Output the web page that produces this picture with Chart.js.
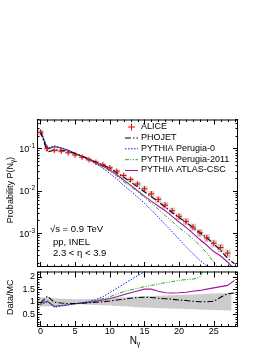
<!DOCTYPE html>
<html>
<head>
<meta charset="utf-8">
<script src="https://cdn.jsdelivr.net/npm/chart.js@4.4.0/dist/chart.umd.min.js"></script>
<style>
  html, body { margin: 0; padding: 0; background: #fff; }
  #wrap { position: relative; width: 271px; height: 351px; overflow: hidden; }
  canvas { position: absolute; left: 0; }
  #top { top: 0; }
  #bot { top: 260px; }
</style>
</head>
<body>
<div id="wrap">
  <canvas id="top" width="271" height="272"></canvas>
  <canvas id="bot" width="271" height="91"></canvas>
</div>
<script>
// ALICE measurement, N_gamma = 0..27
const nAlice = [0,1,2,3,4,5,6,7,8,9,10,11,12,13,14,15,16,17,18,19,20,21,22,23,24,25,26,27];
const alice = [0.24,0.100,0.090,0.086,0.079,0.070,0.062,0.054,0.047,0.041,0.035,0.029,0.023,0.0185,0.0145,0.0112,0.0085,0.0063,0.0046,0.0034,0.0025,0.0019,0.0014,0.00103,0.00078,0.00058,0.00046,0.00034];
// relative systematic uncertainty (grey boxes)
const aliceSys = [0.15,0.10,0.08,0.07,0.07,0.07,0.07,0.08,0.08,0.09,0.10,0.11,0.12,0.13,0.14,0.15,0.16,0.17,0.18,0.18,0.19,0.19,0.20,0.20,0.21,0.21,0.22,0.22];
// band in the ratio panel
const ratioSys = [0.17,0.16,0.13,0.11,0.10,0.09,0.09,0.10,0.11,0.12,0.13,0.15,0.16,0.18,0.20,0.21,0.22,0.23,0.24,0.25,0.26,0.27,0.28,0.29,0.30,0.31,0.32,0.33];

// models
const nMC = [0,1,2,3,4,5,6,7,8,9,10,11,12,13,14,15,16,17,18,19,20,21,22,23,24,25,26,27,28];
const phojet = [0.253,0.082,0.092,0.0905,0.085,0.0753,0.066,0.0563,0.048,0.041,0.034,0.0271,0.0209,0.0162,0.0124,0.0095,0.00726,0.00553,0.00411,0.00309,0.00234,0.00181,0.00137,0.00103,0.00078,0.00057,0.00039,0.000258,0.00019];
const perugia0 = [0.273,0.10,0.115,0.104,0.091,0.076,0.0646,0.0535,0.0435,0.0342,0.0257,0.019,0.0135,0.0099,0.0071,0.0051,0.0035,0.0024,0.0016,0.00108,0.00072,0.00048,0.00033,0.00023,0.00017,0.00012];
const perugia2011 = [0.261,0.095,0.11,0.101,0.0898,0.076,0.0646,0.054,0.0448,0.0366,0.0292,0.0223,0.0164,0.0126,0.0095,0.0070,0.00515,0.0037,0.00261,0.00189,0.00135,0.00101,0.00074,0.00052,0.00034,0.00021,0.00013];
const atlasCSC = [0.253,0.098,0.11,0.101,0.0898,0.076,0.0653,0.0551,0.0461,0.0383,0.031,0.0242,0.018,0.0136,0.0101,0.0075,0.0057,0.0044,0.0034,0.0025,0.00184,0.00138,0.00099,0.00071,0.00052,0.00037,0.00029,0.00021,0.00014];

// Data/MC
const rPhojet = [0.95,1.22,0.98,0.95,0.93,0.93,0.94,0.96,0.98,1.0,1.03,1.07,1.1,1.14,1.17,1.18,1.17,1.14,1.12,1.1,1.07,1.05,1.02,1.0,1.0,1.02,1.18,1.32,1.35];
const rPerugia0 = [0.88,1.0,0.78,0.83,0.87,0.92,0.96,1.01,1.08,1.2,1.36,1.53,1.7,1.87,2.03,2.18,2.35,2.5];
const rPerugia2011 = [0.92,1.05,0.82,0.85,0.88,0.92,0.96,1.0,1.05,1.12,1.2,1.3,1.4,1.47,1.53,1.6,1.65,1.7,1.76,1.8,1.85,1.88,1.9,1.98,2.5,2.9];
const rAtlasCSC = [0.95,1.02,0.82,0.85,0.88,0.92,0.95,0.98,1.02,1.07,1.13,1.2,1.28,1.36,1.43,1.5,1.5,1.42,1.36,1.35,1.36,1.38,1.42,1.45,1.5,1.55,1.6,1.65,1.85];

// ticks and labels
const xTicks = [0,5,10,15,20,25];
const yTopTicks = [0.1,0.01,0.001];
const yTopExp = ['-1','-2','-3'];
const yBotTicks = [0.5,1,1.5,2];
const yBotLabels = ['0.5','1','1.5','2'];
const legendLabels = ['ALICE','PHOJET','PYTHIA Perugia-0','PYTHIA Perugia-2011','PYTHIA ATLAS-CSC'];
const infoLines = ['\u221As = 0.9 TeV','pp, INEL','2.3 < \u03B7 < 3.9'];

const FONT = '"Liberation Sans", Arial, sans-serif';
const RED = '#f00000', BLUE = '#1a1aff', GREEN = '#22aa22', MAG = '#a8169f';
const styles = {
  phojet: {color: '#000', dash: [6,2,1.5,2], width: 1.1},
  p0: {color: BLUE, dash: [1.5,1.5], width: 1},
  p2011: {color: GREEN, dash: [4,1.5,1,1.5,1,1.5], width: 1},
  atlas: {color: MAG, dash: [], width: 1.1}
};

function pts(xs, ys) { return ys.map((y, i) => ({x: xs[i], y: y})); }

function lineSet(xs, ys, st) {
  return {type: 'line', data: pts(xs, ys), borderColor: st.color, borderDash: st.dash,
    borderWidth: st.width, pointRadius: 0, tension: 0, fill: false, order: 1};
}

function drawSub(ctx, base, sub, x, y, size, align) {
  ctx.font = size + 'px ' + FONT;
  const w1 = ctx.measureText(base).width;
  ctx.font = (size * 0.7) + 'px ' + FONT;
  const w2 = ctx.measureText(sub).width;
  let x0 = x;
  if (align === 'center') x0 = x - (w1 + w2) / 2;
  ctx.textAlign = 'left';
  ctx.textBaseline = 'middle';
  ctx.font = size + 'px ' + FONT;
  ctx.fillText(base, x0, y);
  ctx.font = (size * 0.7) + 'px ' + FONT;
  ctx.fillText(sub, x0 + w1, y + size * 0.3);
  return x0 + w1 + w2;
}

function drawFrame(chart, c) {
  const {ctx, chartArea: a} = chart;
  const x = chart.scales.x, y = chart.scales.y;
  ctx.save();
  ctx.strokeStyle = '#000';
  ctx.lineWidth = 1;
  ctx.beginPath();
  for (let v = 0; v <= 28; v++) {
    const px = Math.round(x.getPixelForValue(v)) + 0.5;
    const len = v % 5 === 0 ? c.xMajor : c.xMinor;
    ctx.moveTo(px, a.bottom); ctx.lineTo(px, a.bottom - len);
    ctx.moveTo(px, a.top); ctx.lineTo(px, a.top + len);
  }
  c.yMarks.forEach(m => {
    const py = Math.round(y.getPixelForValue(m.v)) + 0.5;
    if (py < a.top || py > a.bottom) return;
    ctx.moveTo(a.left, py); ctx.lineTo(a.left + m.len, py);
    ctx.moveTo(a.right, py); ctx.lineTo(a.right - m.len, py);
  });
  ctx.stroke();
  ctx.strokeRect(a.left + 0.5, a.top + 0.5, a.width - 1, a.height - 1);
  ctx.restore();
}

// tick marks for log axis
const topMarks = [];
for (let d = -4; d <= 0; d++) {
  for (let m = 1; m <= 9; m++) topMarks.push({v: m * Math.pow(10, d), len: m === 1 ? 5 : 2.5});
}
const botMarks = [];
for (let i = 1; i <= 22; i++) botMarks.push({v: i / 10, len: i % 5 === 0 ? 5 : 2.5});

const topPlugin = {
  id: 'topDeco',
  afterDraw(chart) {
    drawFrame(chart, {xMajor: 5, xMinor: 2.5, yMarks: topMarks});
    const {ctx} = chart;
    const y = chart.scales.y;
    ctx.save();
    ctx.fillStyle = '#000';
    // y tick labels 10^-n
    yTopTicks.forEach((v, i) => {
      const py = y.getPixelForValue(v);
      ctx.font = '9px ' + FONT;
      const w1 = ctx.measureText('10').width;
      ctx.font = '6.5px ' + FONT;
      const w2 = ctx.measureText(yTopExp[i]).width;
      const x0 = 35 - w1 - w2;
      ctx.textAlign = 'left'; ctx.textBaseline = 'middle';
      ctx.font = '9px ' + FONT;
      ctx.fillText('10', x0, py + 1);
      ctx.font = '6.5px ' + FONT;
      ctx.fillText(yTopExp[i], x0 + w1, py - 2.5);
    });
    // y title
    ctx.save();
    ctx.translate(11, 190);
    ctx.rotate(-Math.PI / 2);
    ctx.font = '9px ' + FONT;
    const a1 = 'Probability P(N';
    const wa = ctx.measureText(a1).width;
    ctx.font = '6.5px ' + FONT;
    const wg = ctx.measureText('\u03B3').width;
    ctx.font = '9px ' + FONT;
    const wc = ctx.measureText(')').width;
    let sx = -(wa + wg + wc) / 2;
    const end = drawSub(ctx, a1, '\u03B3', sx, 0, 9, 'left');
    ctx.font = '9px ' + FONT;
    ctx.fillText(')', end, 0);
    ctx.restore();
    // legend
    const ly = [126.5, 137.5, 148.3, 159.2, 170];
    const sets = [null, styles.phojet, styles.p0, styles.p2011, styles.atlas];
    ctx.font = '9px ' + FONT;
    ctx.textAlign = 'left'; ctx.textBaseline = 'middle';
    legendLabels.forEach((lab, i) => {
      const yy = ly[i];
      if (i === 0) {
        ctx.strokeStyle = RED; ctx.lineWidth = 1; ctx.setLineDash([]);
        ctx.beginPath();
        ctx.moveTo(128, yy + 0.5); ctx.lineTo(135, yy + 0.5);
        ctx.moveTo(131.5, yy - 3); ctx.lineTo(131.5, yy + 4);
        ctx.stroke();
      } else {
        const st = sets[i];
        ctx.strokeStyle = st.color; ctx.lineWidth = st.width; ctx.setLineDash(st.dash);
        ctx.beginPath();
        ctx.moveTo(125, yy + 0.5); ctx.lineTo(138, yy + 0.5);
        ctx.stroke();
      }
      ctx.setLineDash([]);
      ctx.fillStyle = '#000';
      ctx.fillText(lab, 141, yy);
    });
    // info text
    ctx.font = '9.5px ' + FONT;
    ctx.fillText(infoLines[0], 50, 229);
    ctx.fillText(infoLines[1], 53, 242);
    ctx.fillText(infoLines[2], 53, 253.5);
    ctx.restore();
  }
};

const botPlugin = {
  id: 'botDeco',
  afterDraw(chart) {
    drawFrame(chart, {xMajor: 6, xMinor: 3, yMarks: botMarks});
    const {ctx, chartArea: a} = chart;
    const x = chart.scales.x, y = chart.scales.y;
    ctx.save();
    ctx.fillStyle = '#000';
    ctx.font = '9px ' + FONT;
    ctx.textAlign = 'center'; ctx.textBaseline = 'middle';
    xTicks.forEach(v => ctx.fillText(String(v), x.getPixelForValue(v), a.bottom + 4.5));
    ctx.textAlign = 'right';
    yBotTicks.forEach((v, i) => ctx.fillText(yBotLabels[i], 35, y.getPixelForValue(v)));
    // titles (canvas starts at page y = 260)
    drawSub(ctx, 'N', '\u03B3', 135, 81, 10, 'center');
    ctx.save();
    ctx.translate(11, a.top + a.height / 2 - 2);
    ctx.rotate(-Math.PI / 2);
    ctx.font = '9px ' + FONT;
    ctx.textAlign = 'center'; ctx.textBaseline = 'middle';
    ctx.fillText('Data/MC', 0, 0);
    ctx.restore();
    ctx.restore();
  }
};

const xScale = {type: 'linear', min: -0.5, max: 28.5, offset: false, display: false};

new Chart(document.getElementById('top'), {
  type: 'bar',
  data: {
    datasets: [
      {type: 'line', data: pts(nAlice, alice), showLine: false, pointStyle: 'cross',
        pointRadius: 2.8, borderColor: RED, pointBorderWidth: 1, order: 0},
      lineSet(nMC, phojet, styles.phojet),
      lineSet(nMC, perugia0, styles.p0),
      lineSet(nMC, perugia2011, styles.p2011),
      lineSet(nMC, atlasCSC, styles.atlas),
      {type: 'bar', data: alice.map((v, i) => ({x: nAlice[i], y: [v * (1 - aliceSys[i]), v * (1 + aliceSys[i])]})),
        backgroundColor: '#d2d2d2', borderWidth: 0, barPercentage: 0.9, categoryPercentage: 1, order: 2}
    ]
  },
  options: {
    responsive: false, animation: false, events: [],
    layout: {padding: {left: 37, right: 33, top: 119.5, bottom: 0}},
    plugins: {legend: {display: false}, tooltip: {enabled: false}},
    scales: {
      x: xScale,
      y: {type: 'logarithmic', min: 1.6e-4, max: 0.48, display: false}
    }
  },
  plugins: [topPlugin]
});

new Chart(document.getElementById('bot'), {
  type: 'bar',
  data: {
    datasets: [
      lineSet(nMC, rPhojet, styles.phojet),
      lineSet(nMC, rPerugia0, styles.p0),
      lineSet(nMC, rPerugia2011, styles.p2011),
      lineSet(nMC, rAtlasCSC, styles.atlas),
      {type: 'bar', data: ratioSys.map((e, i) => ({x: nAlice[i], y: [1 - e, 1 + e]})),
        backgroundColor: '#cccccc', borderWidth: 0, barPercentage: 1, categoryPercentage: 1, order: 2}
    ]
  },
  options: {
    responsive: false, animation: false, events: [],
    layout: {padding: {left: 37, right: 33, top: 11.5, bottom: 24}},
    plugins: {legend: {display: false}, tooltip: {enabled: false}},
    scales: {
      x: xScale,
      y: {type: 'linear', min: 0, max: 2.2, display: false}
    }
  },
  plugins: [botPlugin]
});
</script>
</body>
</html>
